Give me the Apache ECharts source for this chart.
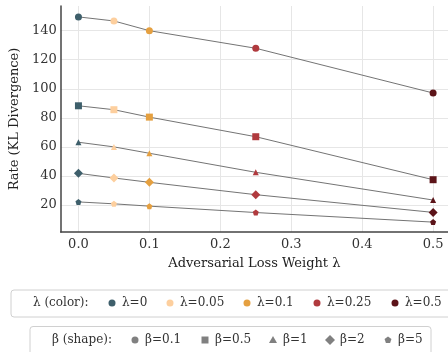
<!DOCTYPE html>
<html><head><meta charset="utf-8">
<script src="https://cdn.jsdelivr.net/npm/echarts@6/dist/echarts.min.js"></script>
<style>html,body{margin:0;padding:0;background:#fff}#c{width:448px;height:352px}</style>
</head><body><div id="c"></div>
<script>
const lambdas = [0, 0.05, 0.1, 0.25, 0.5];
const lambdaNames = ['λ=0', 'λ=0.05', 'λ=0.1', 'λ=0.25', 'λ=0.5'];
const lambdaColors = ['#3e5f6b', '#fdcf9e', '#e5a040', '#b03a3e', '#5c1419'];
const betaNames = ['β=0.1', 'β=0.5', 'β=1', 'β=2', 'β=5'];
const rateBeta01 = [149.5, 146.7, 140.0, 127.9, 97.1];
const rateBeta05 = [88.3, 85.6, 80.5, 67.0, 37.4];
const rateBeta1 = [63.2, 60.0, 55.6, 42.5, 23.4];
const rateBeta2 = [41.8, 38.6, 35.6, 27.1, 14.9];
const rateBeta5 = [22.1, 20.8, 19.2, 14.8, 8.2];
const xTicks = [0, 0.1, 0.2, 0.3, 0.4, 0.5];
const yTicks = [20, 40, 60, 80, 100, 120, 140];

// layout (legend icon centres, px)
const lambdaLegendX = [112, 170, 247, 317, 395];
const betaLegendX = [135, 205, 273, 330, 388];

const pentPts = [[0,-10],[9.51,-3.09],[5.88,8.09],[-5.88,8.09],[-9.51,-3.09]];
const pent = 'path://M0,-10 L9.51,-3.09 L5.88,8.09 L-5.88,8.09 L-9.51,-3.09 Z';
const shapes = ['circle', 'rect', 'triangle', 'diamond', pent];
const sizes = [7, 7, 6, 9, 6];
const rates = [rateBeta01, rateBeta05, rateBeta1, rateBeta2, rateBeta5];
const FONT = 'DejaVu Serif';
const TXT = '#333';

const series = [];
rates.forEach((r, bi) => {
  series.push({
    type: 'line', name: betaNames[bi], symbol: shapes[bi], symbolSize: sizes[bi],
    lineStyle: {color: '#747474', width: 1},
    itemStyle: {color: '#747474'},
    emphasis: {disabled: true},
    z: 3,
    data: r.map((v, i) => ({value: [lambdas[i], v], itemStyle: {color: lambdaColors[i], opacity: 1}}))
  });
});

function shapeGraphic(idx, cx, cy, color) {
  const s = 3.6;
  if (idx === 0) return {type: 'circle', shape: {cx, cy, r: 3.5}, style: {fill: color}, z: 2};
  if (idx === 1) return {type: 'rect', shape: {x: cx - 3.5, y: cy - 3.5, width: 7, height: 7}, style: {fill: color}, z: 2};
  if (idx === 2) return {type: 'polygon', shape: {points: [[cx, cy - 4], [cx + 4, cy + 3], [cx - 4, cy + 3]]}, style: {fill: color}, z: 2};
  if (idx === 3) return {type: 'polygon', shape: {points: [[cx, cy - 5], [cx + 5, cy], [cx, cy + 5], [cx - 5, cy]]}, style: {fill: color}, z: 2};
  return {type: 'polygon', shape: {points: pentPts.map(p => [cx + p[0] * 0.36, cy + p[1] * 0.36])}, style: {fill: color}, z: 2};
}

const graphics = [
  {type: 'rect', shape: {x: 11, y: 290, width: 440, height: 27, r: 3},
    style: {fill: '#fff', stroke: '#d0d0d0', lineWidth: 1}, z: 0},
  {type: 'text', x: 33, y: 303, style: {text: 'λ (color):', font: '12px "DejaVu Serif"', fill: TXT, verticalAlign: 'middle'}, z: 1},
  {type: 'rect', shape: {x: 30, y: 326.5, width: 401, height: 30, r: 3},
    style: {fill: '#fff', stroke: '#d0d0d0', lineWidth: 1}, z: 0},
  {type: 'text', x: 52, y: 340, style: {text: 'β (shape):', font: '12px "DejaVu Serif"', fill: TXT, verticalAlign: 'middle'}, z: 1}
];
lambdaNames.forEach((n, i) => {
  graphics.push({type: 'circle', shape: {cx: lambdaLegendX[i], cy: 303, r: 3.5}, style: {fill: lambdaColors[i]}, z: 2});
  graphics.push({type: 'text', x: lambdaLegendX[i] + 10, y: 303, style: {text: n, font: '12px "DejaVu Serif"', fill: TXT, verticalAlign: 'middle'}, z: 2});
});
betaNames.forEach((n, i) => {
  graphics.push(shapeGraphic(i, betaLegendX[i], 340, '#808080'));
  graphics.push({type: 'text', x: betaLegendX[i] + 10, y: 340, style: {text: n, font: '12px "DejaVu Serif"', fill: TXT, verticalAlign: 'middle'}, z: 2});
});

const chart = echarts.init(document.getElementById('c'));
chart.setOption({
  animation: false,
  backgroundColor: '#fff',
  textStyle: {fontFamily: FONT},
  grid: {left: 60, top: 6, right: 0, bottom: 120, containLabel: false},
  xAxis: {
    type: 'value', min: -0.025, max: 0.521,
    name: 'Adversarial Loss Weight λ', nameLocation: 'middle', nameGap: 25,
    nameTextStyle: {fontFamily: FONT, fontSize: 13, color: '#222'},
    axisLine: {show: true, onZero: false, lineStyle: {color: '#444', width: 1.5}},
    axisTick: {show: false, customValues: xTicks},
    axisLabel: {customValues: xTicks, fontFamily: FONT, fontSize: 13, color: TXT, margin: 6,
      formatter: v => v.toFixed(1)},
    splitLine: {show: true, lineStyle: {color: '#e6e6e6', width: 1}}
  },
  yAxis: {
    type: 'value', min: 1.4, max: 157,
    name: 'Rate (KL Divergence)', nameLocation: 'middle', nameGap: 38,
    nameTextStyle: {fontFamily: FONT, fontSize: 13, color: '#222'},
    axisLine: {show: true, onZero: false, lineStyle: {color: '#444', width: 1.5}},
    axisTick: {show: false, customValues: yTicks},
    axisLabel: {customValues: yTicks, fontFamily: FONT, fontSize: 13, color: TXT, margin: 4},
    splitLine: {show: true, lineStyle: {color: '#e6e6e6', width: 1}}
  },
  graphic: graphics,
  series: series
});
</script></body></html>
